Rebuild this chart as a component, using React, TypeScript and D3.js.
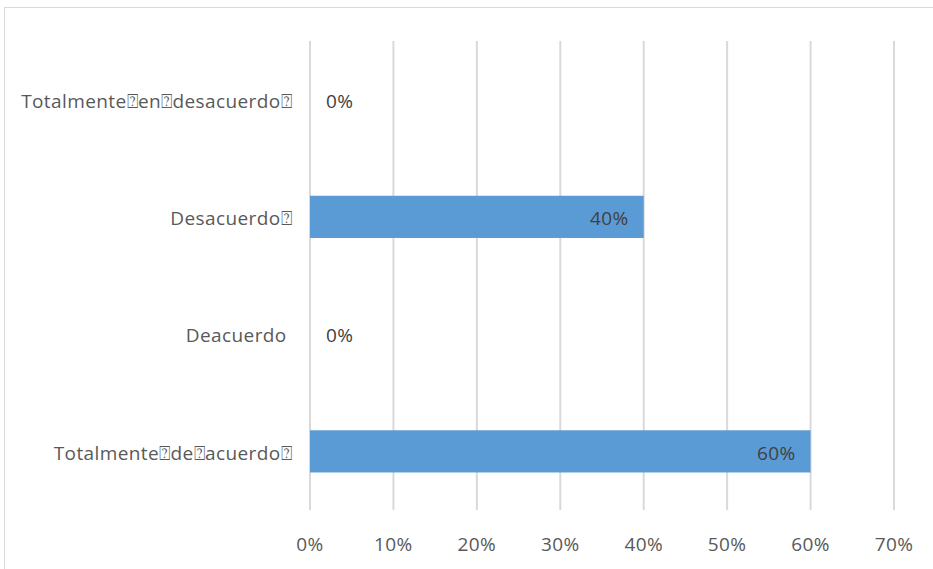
import React from "react";
import * as d3 from "d3";

const categories = [
  "Totalmente\u2370en\u2370desacuerdo\u2370",
  "Desacuerdo\u2370",
  "Deacuerdo ",
  "Totalmente\u2370de\u2370acuerdo\u2370",
];
const values = [0, 0.4, 0, 0.6];
const ticks = [0, 0.1, 0.2, 0.3, 0.4, 0.5, 0.6, 0.7];

const W = 933;
const H = 569;
const FONT = "'Open Sans', 'Noto Sans', sans-serif";
const FS = 19;
const LS = 0.4;

export default function App() {
  const x = d3.scaleLinear().domain([0, 0.7]).range([310, 894]);
  const y = d3
    .scaleBand<string>()
    .domain(categories)
    .range([41, 510])
    .paddingInner(0.64)
    .paddingOuter(0.32);
  const fmt = d3.format(".0%");
  return (
    <svg
      width={W}
      height={H}
      style={{ position: "absolute", left: 0, top: 0, background: "#fff" }}
    >
      <rect x={4.5} y={7.5} width={W + 10} height={H + 10} fill="#fff" stroke="#d9d9d9" strokeWidth={1} />
      {ticks.map((t) => (
        <line
          key={t}
          x1={x(t)}
          x2={x(t)}
          y1={41}
          y2={510}
          stroke="#d9d9d9"
          strokeWidth={2}
        />
      ))}
      {categories.map((c, i) => (
        <rect
          key={c}
          x={x(0)}
          y={y(c)!}
          width={x(values[i]) - x(0)}
          height={y.bandwidth()}
          fill="#5b9bd5"
        />
      ))}
      {categories.map((c, i) => {
        const inside = values[i] > 0;
        return (
          <text
            key={"v" + c}
            x={inside ? x(values[i]) - 15 : x(0) + 16}
            y={y(c)! + y.bandwidth() / 2 + 1.5}
            dy="0.35em"
            textAnchor={inside ? "end" : "start"}
            fontFamily={FONT}
            fontSize={FS}
            letterSpacing={LS}
            fill="#404040"
          >
            {fmt(values[i])}
          </text>
        );
      })}
      {categories.map((c) => (
        <text
          key={"c" + c}
          x={292}
          y={y(c)! + y.bandwidth() / 2 + 1.5}
          dy="0.35em"
          textAnchor="end"
          fontFamily={FONT}
          fontSize={FS}
          letterSpacing={LS}
          fill="#595959"
          style={{ whiteSpace: "pre" }}
        >
          {c}
        </text>
      ))}
      {ticks.map((t) => (
        <text
          key={"t" + t}
          x={x(t)}
          y={544}
          dy="0.35em"
          textAnchor="middle"
          fontFamily={FONT}
          fontSize={FS}
          letterSpacing={LS}
          fill="#595959"
        >
          {fmt(t)}
        </text>
      ))}
    </svg>
  );
}
